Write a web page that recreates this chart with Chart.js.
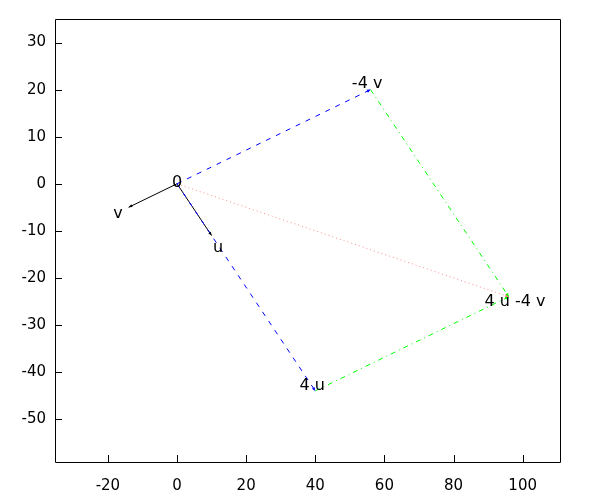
<!DOCTYPE html>
<html>
<head>
<meta charset="utf-8">
<script src="https://cdn.jsdelivr.net/npm/chart.js@4/dist/chart.umd.min.js"></script>
<style>
  html, body { margin: 0; padding: 0; background: #fff; }
  #wrap { width: 600px; height: 500px; }
</style>
</head>
<body>
<div id="wrap"><canvas id="chart" width="600" height="500"></canvas></div>
<script>
// axis ranges and tick labels
const xMin = -35.3, xMax = 110.8;
const yMin = -59.1, yMax = 35;
const xTicks = [-20, 0, 20, 40, 60, 80, 100];
const yTicks = [30, 20, 10, 0, -10, -20, -30, -40, -50];

// vectors / points
const origin = [0, 0];
const vecU = [10, -11];
const vecV = [-14, -5];
const pt4u = [40, -44];
const ptM4v = [56, 20];
const pt4uM4v = [96, -24];

// text labels
const labelText = ['0', 'v', 'u', '4 u', '-4 v', '4 u -4 v'];
const labelX = [0, -17.1, 11.9, 39.1, 55.0, 97.8];
const labelY = [0.2, -6.3, -13.6, -42.9, 21.3, -25.0];

const pt = a => ({ x: a[0], y: a[1] });
const seg = (a, b) => [pt(a), pt(b)];

function segment(a, b, color, dash, width) {
  return {
    data: seg(a, b),
    showLine: true,
    borderColor: color,
    backgroundColor: color,
    borderDash: dash,
    borderWidth: width,
    pointRadius: 0,
    tension: 0
  };
}

const datasets = [
  segment(origin, ptM4v, '#0000ff', [5, 6], 1),
  segment(origin, pt4u, '#0000ff', [5, 6], 1),
  segment(ptM4v, pt4uM4v, '#00ff00', [5, 4, 1, 4], 1),
  segment(pt4u, pt4uM4v, '#00ff00', [5, 4, 1, 4], 1),
  segment(origin, pt4uM4v, 'rgba(255,0,0,0.45)', [1, 3], 1),
  segment(origin, vecU, '#000000', [], 1),
  segment(origin, vecV, '#000000', [], 1)
];

const frame = {
  id: 'frame',
  afterDatasetsDraw(chart) {
    const ctx = chart.ctx;
    // small arrow heads at the end of each segment
    chart.data.datasets.forEach((ds, i) => {
      const m = chart.getDatasetMeta(i).data;
      const a = m[0], b = m[1];
      const ang = Math.atan2(b.y - a.y, b.x - a.x);
      const len = 4, spread = 0.4;
      ctx.save();
      ctx.fillStyle = ds.borderColor;
      ctx.beginPath();
      ctx.moveTo(b.x, b.y);
      ctx.lineTo(b.x - len * Math.cos(ang - spread), b.y - len * Math.sin(ang - spread));
      ctx.lineTo(b.x - len * Math.cos(ang + spread), b.y - len * Math.sin(ang + spread));
      ctx.closePath();
      ctx.fill();
      ctx.restore();
    });
  },
  afterDraw(chart) {
    const ctx = chart.ctx;
    const a = chart.chartArea;
    const xs = chart.scales.x, ys = chart.scales.y;
    ctx.save();
    ctx.strokeStyle = '#000';
    ctx.lineWidth = 1;
    ctx.beginPath();
    ctx.rect(Math.round(a.left) + 0.5, Math.round(a.top) + 0.5,
             Math.round(a.right - a.left), Math.round(a.bottom - a.top));
    xs.ticks.forEach(t => {
      const px = Math.round(xs.getPixelForValue(t.value)) + 0.5;
      ctx.moveTo(px, a.bottom);
      ctx.lineTo(px, a.bottom - 7);
    });
    ys.ticks.forEach(t => {
      const py = Math.round(ys.getPixelForValue(t.value)) + 0.5;
      ctx.moveTo(a.left, py);
      ctx.lineTo(a.left + 7, py);
    });
    ctx.stroke();

    ctx.fillStyle = '#000';
    ctx.font = '16px "DejaVu Sans"';
    ctx.textAlign = 'center';
    ctx.textBaseline = 'middle';
    labelText.forEach((s, i) => {
      ctx.fillText(s, xs.getPixelForValue(labelX[i]), ys.getPixelForValue(labelY[i]));
    });
    ctx.restore();
  }
};

Chart.defaults.font.family = '"DejaVu Sans"';
Chart.defaults.font.size = 15;
Chart.defaults.color = '#000';

new Chart(document.getElementById('chart'), {
  type: 'scatter',
  data: { datasets },
  options: {
    responsive: false,
    animation: false,
    layout: { padding: { top: 19, right: 40, left: 0, bottom: 0 } },
    plugins: { legend: { display: false }, tooltip: { enabled: false } },
    scales: {
      x: {
        type: 'linear',
        min: xMin, max: xMax,
        afterBuildTicks: s => { s.ticks = xTicks.map(v => ({ value: v })); },
        afterFit: s => { s.height = 38; },
        grid: { display: false, drawTicks: false },
        border: { display: false },
        ticks: { padding: 15, maxRotation: 0, autoSkip: false }
      },
      y: {
        type: 'linear',
        min: yMin, max: yMax,
        afterBuildTicks: s => { s.ticks = yTicks.map(v => ({ value: v })); },
        afterFit: s => { s.width = 55; },
        grid: { display: false, drawTicks: false },
        border: { display: false },
        ticks: { padding: 9, autoSkip: false }
      }
    }
  },
  plugins: [frame]
});
</script>
</body>
</html>
